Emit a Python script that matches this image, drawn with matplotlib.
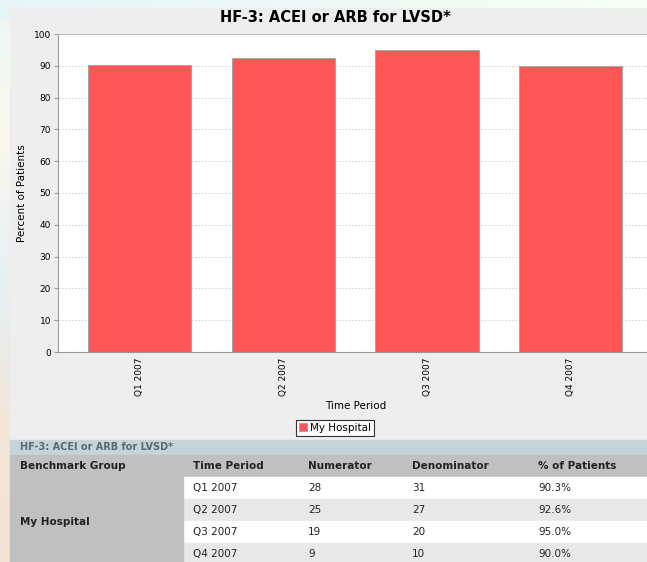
import numpy as np
import matplotlib
matplotlib.use('Agg')
import matplotlib.pyplot as plt
from matplotlib.patches import Rectangle

# Quarterly data for HF-3
periods = ['Q1 2007', 'Q2 2007', 'Q3 2007', 'Q4 2007']
numerators = [28, 25, 19, 9]
denominators = [31, 27, 20, 10]
percents = [90.3, 92.6, 95.0, 90.0]
group = 'My Hospital'
title = 'HF-3: ACEI or ARB for LVSD*'

W, H = 647, 562
fig = plt.figure(figsize=(W / 100, H / 100), dpi=100)

# Background layer in pixel coordinates
bg = fig.add_axes([0, 0, 1, 1], zorder=0)
bg.set_xlim(0, W)
bg.set_ylim(H, 0)
bg.axis('off')

# soft page gradient behind the panel
stops = np.array([[0.93, 0.97, 0.97], [0.98, 0.97, 0.93], [0.90, 0.94, 0.96],
                  [0.95, 0.90, 0.85], [0.95, 0.89, 0.83]])
yy = np.linspace(0, len(stops) - 1, H)
col = np.array([np.interp(yy, np.arange(len(stops)), stops[:, c]) for c in range(3)]).T
grad = np.repeat(col[:, None, :], W, axis=1)
xfade = np.linspace(0, 1, W)[None, :, None]
top = np.array([0.90, 0.96, 0.97]) * (1 - xfade) + np.array([0.96, 1.0, 0.96]) * xfade
grad[:20] = top[0]
bg.imshow(grad, extent=(0, W, H, 0), aspect='auto', zorder=0)

# chart panel
bg.add_patch(Rectangle((10, 8), W, 432, color='#EEEEEE', zorder=1))
bg.text(335, 18, title, ha='center', va='center', fontsize=10.5, fontweight='bold', zorder=2)

# table under the chart
bg.add_patch(Rectangle((10, 440), W, 15, color='#C5D3DA', zorder=1))
bg.text(20, 447.5, title, ha='left', va='center', fontsize=7, fontweight='bold',
        color='#5A6A72', zorder=2)
bg.add_patch(Rectangle((10, 455), W, 22, color='#C0C0C0', zorder=1))
headers = ['Benchmark Group', 'Time Period', 'Numerator', 'Denominator', '% of Patients']
colx = [20, 193, 308, 412, 538]
for x, h in zip(colx, headers):
    bg.text(x, 466, h, ha='left', va='center', fontsize=7.5, fontweight='bold',
            color='#222222', zorder=2)
row_h = 22
for i, p in enumerate(periods):
    y0 = 477 + i * row_h
    bg.add_patch(Rectangle((183, y0), W, row_h, color='white' if i % 2 == 0 else '#E8E8E8', zorder=1))
    vals = [p, str(numerators[i]), str(denominators[i]), f'{percents[i]:.1f}%']
    for x, v in zip(colx[1:], vals):
        bg.text(x, y0 + row_h / 2, v, ha='left', va='center', fontsize=7.5, color='#222222', zorder=2)
bg.add_patch(Rectangle((10, 477), 173, H - 477, color='#C0C0C0', zorder=1))
bg.text(20, 522, group, ha='left', va='center', fontsize=7.5, fontweight='bold',
        color='#222222', zorder=2)

# bar chart
ax = fig.add_axes([58 / W, (H - 352) / H, 594.5 / W, 318 / H], zorder=1)
ax.set_facecolor('white')
x = np.arange(len(periods))
ax.bar(x, percents, width=0.718, color='#FF5555', edgecolor='#A0A0A0', linewidth=0.6,
       label=group, zorder=2)
ax.set_xlim(-0.571, 3.571)
ax.set_ylim(0, 100)
ax.set_yticks(range(0, 101, 10))
ax.set_xticks(x)
ax.set_xticklabels(periods, rotation=90, fontsize=6.5)
ax.tick_params(axis='y', labelsize=6.5, length=3, color='#999999', pad=2)
ax.tick_params(axis='x', length=0, pad=4)
ax.yaxis.grid(True, linestyle=(0, (2, 2)), color='#CCCCCC', linewidth=0.6, zorder=0)
for s in ['left', 'bottom']:
    ax.spines[s].set_color('#999999')
ax.spines['top'].set_color('#BBBBBB')
ax.spines['right'].set_visible(False)
ax.set_ylabel('Percent of Patients', fontsize=7.5)
ax.yaxis.set_label_coords(-0.052, 0.5)
ax.set_xlabel('Time Period', fontsize=7.5)
ax.xaxis.set_label_coords(0.5, -0.154)

leg = ax.legend(loc='center', bbox_to_anchor=(335 / W, 1 - 428 / H), bbox_transform=fig.transFigure,
                fontsize=7.5, frameon=True, fancybox=False, edgecolor='black',
                handlelength=0.8, handleheight=0.8, handletextpad=0.3, borderpad=0.3,
                borderaxespad=0)
leg.get_frame().set_linewidth(0.8)

fig.savefig('out.png', dpi=100)
